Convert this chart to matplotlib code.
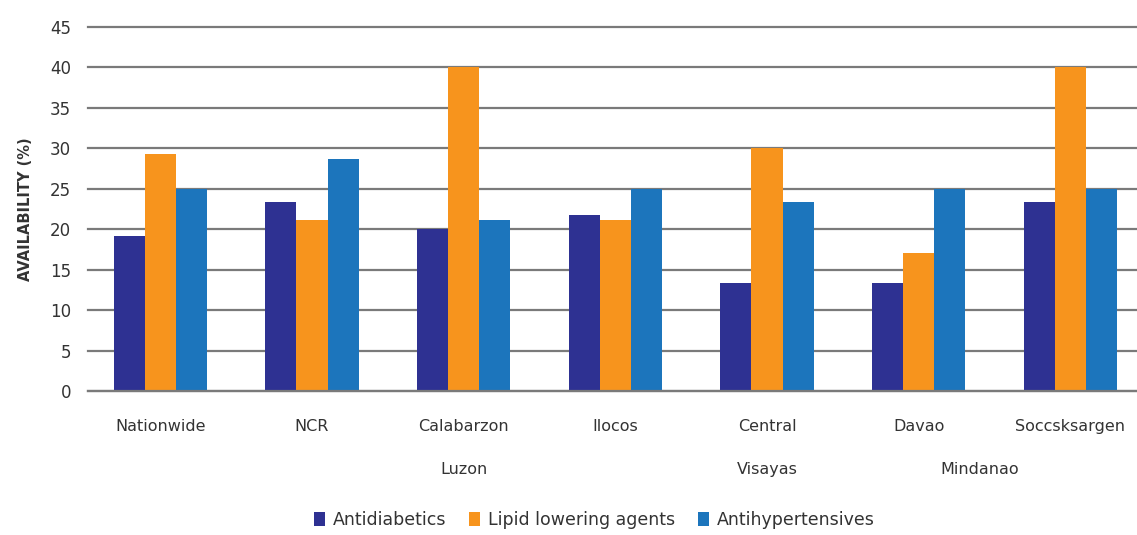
import matplotlib
matplotlib.use("Agg")
import matplotlib.pyplot as plt
import numpy as np

# data
regions = ["Nationwide", "NCR", "Calabarzon", "Ilocos", "Central", "Davao", "Soccsksargen"]
groups = ["Luzon", "Visayas", "Mindanao"]
group_pos = [2, 4, 5.4]
antidiabetics = [19.2, 23.3, 20.0, 21.7, 13.3, 13.3, 23.3]
lipid_lowering = [29.3, 21.1, 40.0, 21.1, 30.0, 17.1, 40.0]
antihypertensives = [25.0, 28.7, 21.1, 25.0, 23.3, 25.0, 25.0]
series_names = ["Antidiabetics", "Lipid lowering agents", "Antihypertensives"]

colors = ["#2E3192", "#F7941D", "#1C75BC"]
txt = "#333333"
gridc = "#7a7a7a"
plt.rcParams['font.family'] = ['DejaVu Sans']

fig = plt.figure(figsize=(11.37, 5.35), dpi=100)
ax = fig.add_axes([0.077, 0.269, 0.923, 0.681])

x = np.arange(len(regions))
w = 0.205
for i, (vals, name) in enumerate(zip([antidiabetics, lipid_lowering, antihypertensives], series_names)):
    ax.bar(x + (i - 1) * w, vals, w, color=colors[i], label=name, zorder=3)

ax.set_ylim(0, 45)
ax.set_yticks(np.arange(0, 46, 5))
ax.set_xlim(-0.48, 6.44)
ax.yaxis.grid(True, color=gridc, linewidth=1.6, zorder=0)
for gl in ax.get_ygridlines():
    gl.set_clip_on(False)
ax.axhline(0, color=gridc, linewidth=1.6, zorder=4, clip_on=False)
for s in ax.spines.values():
    s.set_visible(False)
ax.tick_params(axis="y", length=0, pad=12, labelsize=12, labelcolor=txt)
ax.set_xticks(x)
ax.set_xticklabels(regions)
ax.tick_params(axis="x", length=0, pad=20, labelsize=11.5, labelcolor=txt)

# second level of category labels
for g, p in zip(groups, group_pos):
    ax.text(p, -0.215, g, transform=ax.get_xaxis_transform(), ha="center", va="center",
            fontsize=11.5, color=txt)

ax.set_ylabel("AVAILABILITY (%)", fontsize=10.5, fontweight="bold", color=txt, labelpad=12)

fig.legend(loc="center", bbox_to_anchor=(0.523, 0.028), ncol=3, frameon=False,
           fontsize=12.5, handlelength=0.6, handleheight=0.8, handletextpad=0.5,
           columnspacing=1.3, labelcolor=txt)

fig.savefig("out.png", dpi=100)
